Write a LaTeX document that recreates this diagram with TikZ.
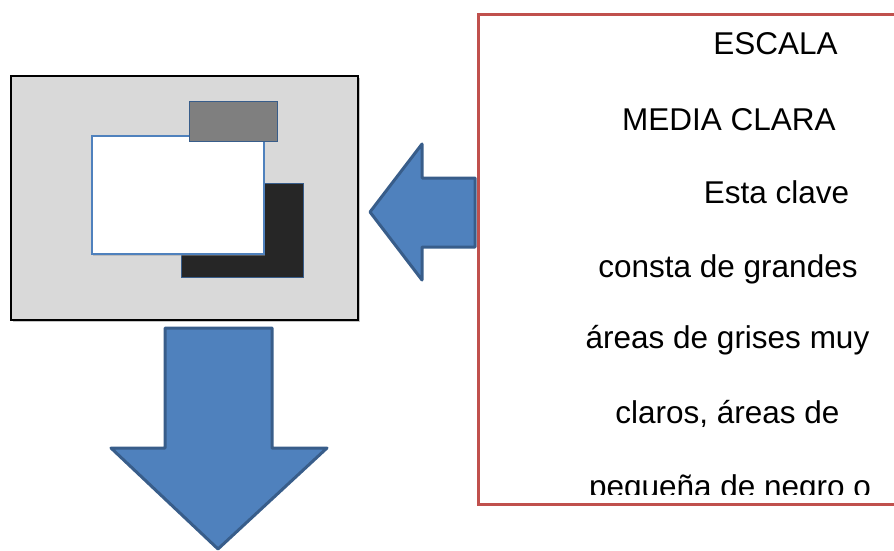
\documentclass[tikz,border=0pt]{standalone}
\usepackage{fontspec}
\setmainfont{Liberation Sans}
\definecolor{boxgray}{HTML}{D9D9D9}
\definecolor{midgray}{HTML}{7F7F7F}
\definecolor{darkfill}{HTML}{262626}
\definecolor{accblue}{HTML}{4F81BD}
\definecolor{accblueedge}{HTML}{385D8A}
\definecolor{accred}{HTML}{C0504D}
\begin{document}
\begin{tikzpicture}[x=1pt,y=-1pt,
  blockarrow/.style={fill=accblue,draw=accblueedge,line width=3pt,line join=round},
  txt/.style={anchor=base,inner sep=0pt,font=\fontsize{31.5}{36}\selectfont}]
\useasboundingbox (0,0) rectangle (894,551);
% left picture panel
\fill[black!45,opacity=0.5] (13,78) rectangle (360,322);
\draw[fill=boxgray,draw=black,line width=1.5pt] (11,76) rectangle (358,320);
\node[draw=accblueedge,fill=darkfill,line width=0.75pt,inner sep=0pt,minimum width=122pt,minimum height=94pt,anchor=north west] (dark) at (181,183) {};
\fill[black!40,opacity=0.45] (93,138) rectangle (265,256);
\node[draw=accblue,fill=white,line width=1.5pt,inner sep=0pt,minimum width=172pt,minimum height=118pt,anchor=north west] (white) at (91,135) {};
\node[draw=accblueedge,fill=midgray,line width=0.75pt,inner sep=0pt,minimum width=88pt,minimum height=40pt,anchor=north west] (small) at (189,101) {};
% text box
\draw[accred,line width=3pt] (898,14.5) -- (478,14.5) -- (478,504) -- (898,504);
\coordinate (boxleft) at (476,212);
% left arrow
\draw[blockarrow] (boxleft) ++(-1,-34) -- (422,178) -- (422,144) -- (370,212) -- (422,280) -- (422,247) -- (475,247) -- cycle;
% down arrow
\draw[blockarrow] (165,328) -- (272,328) -- (272,448) -- (327,448) -- (218,549) -- (111,448) -- (165,448) -- cycle;
% text lines
\node[txt] (l1) at (775.5,55) {ESCALA};
\node[txt] (l2) at (729,130) {MEDIA CLARA};
\node[txt] (l3) at (776.5,203) {Esta clave};
\node[txt] (l4) at (728,277) {consta de grandes};
\node[txt] (l5) at (727.5,348.5) {áreas de grises muy};
\node[txt] (l6) at (727.5,423) {claros, áreas de};
\begin{scope}
\clip (480,440) rectangle (894,494);
\node[txt] (l7) at (730,497) {pequeña de negro o};
\end{scope}
\end{tikzpicture}
\end{document}
